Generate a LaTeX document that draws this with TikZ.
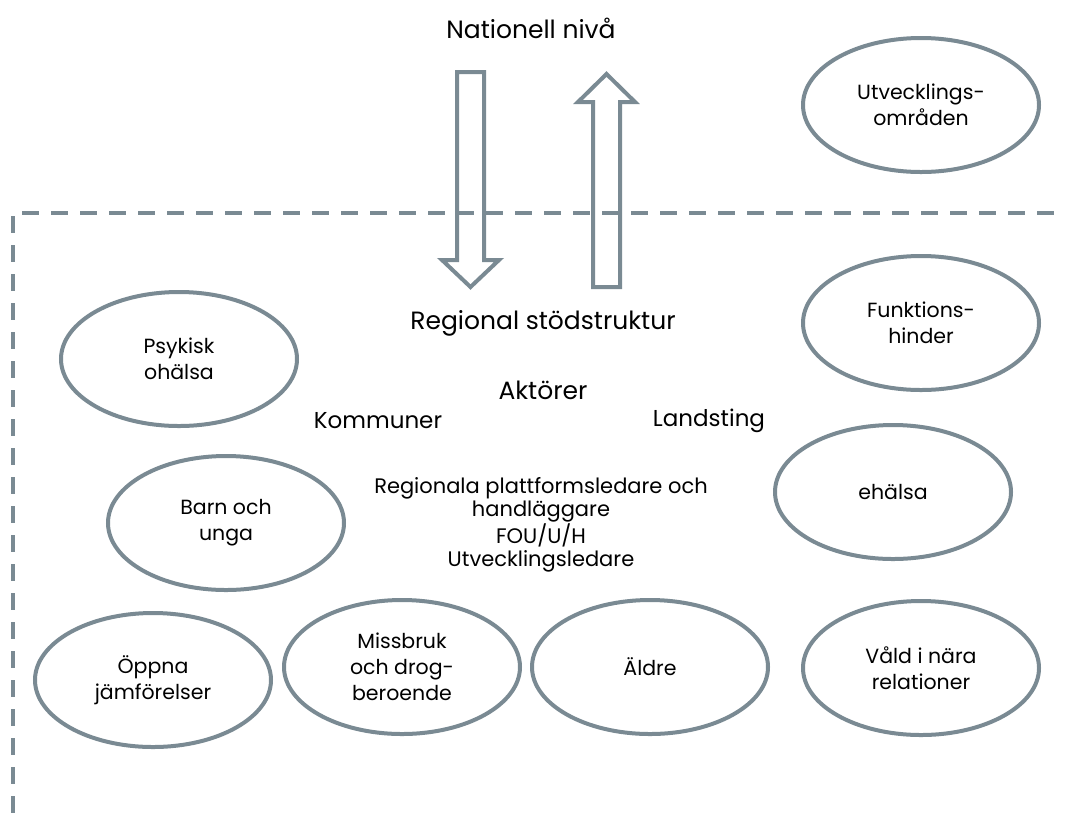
\documentclass[tikz,border=0pt]{standalone}
\usepackage{fontspec}
\setmainfont{Poppins}
\definecolor{slate}{HTML}{7A8A93}
\tikzset{
  area/.style={ellipse, draw=slate, line width=4pt, minimum width=236pt,
    minimum height=134pt, inner sep=0pt, align=center, font=\fontsize{20.5}{26}\selectfont},
  head/.style={font=\fontsize{25}{30}\selectfont},
  actor/.style={font=\fontsize{23}{28}\selectfont},
  bigarrow/.style={draw=slate, line width=4pt, line join=miter},
  border/.style={draw=slate, line width=4pt, dash pattern=on 17pt off 12pt}
}
\usetikzlibrary{shapes.geometric}
\begin{document}
\begin{tikzpicture}[x=1pt,y=-1pt]
\useasboundingbox (0,0) rectangle (1065,815);

% gransen mellan nationell och regional niva
\draw[border] (22,213) -- (1065,213);
\draw[border] (13,216) -- (13,815);

% pilar upp och ned
\draw[bigarrow] (457,72) -- (484,72) -- (484,260) -- (499,260) -- (470.5,287)
  -- (442,260) -- (457,260) -- cycle;
\draw[bigarrow] (593,287) -- (620,287) -- (620,102) -- (635,102) -- (606.5,74)
  -- (578,102) -- (593,102) -- cycle;

\node[head] (nat) at (531,28) {Nationell nivå};
\node[head] (reg) at (543,323) {Regional stödstruktur};
\node[head] (akt) at (543,390) {Aktörer};
\node[actor] (kom) at (378,421) {Kommuner};
\node[actor] (lan) at (709,421) {Landsting};
\node[actor, align=center, font=\fontsize{21}{23.3}\selectfont] (led) at (541,525)
  {Regionala plattformsledare och\\handläggare\\FOU/U/H\\Utvecklingsledare};

% omraden
\node[area] (utv) at (921,105) {Utvecklings-\\områden};
\node[area] (psy) at (179,359) {Psykisk\\ohälsa};
\node[area] (fun) at (921,323) {Funktions-\\hinder};
\node[area] (bar) at (226,523) {Barn och\\unga};
\node[area] (eha) at (893,492) {ehälsa};
\node[area] (opp) at (153,680) {Öppna\\jämförelser};
\node[area] (mis) at (402,667) {Missbruk\\och drog-\\beroende};
\node[area] (ald) at (650,667) {Äldre};
\node[area] (vld) at (921,668) {Våld i nära\\relationer};
\end{tikzpicture}
\end{document}
